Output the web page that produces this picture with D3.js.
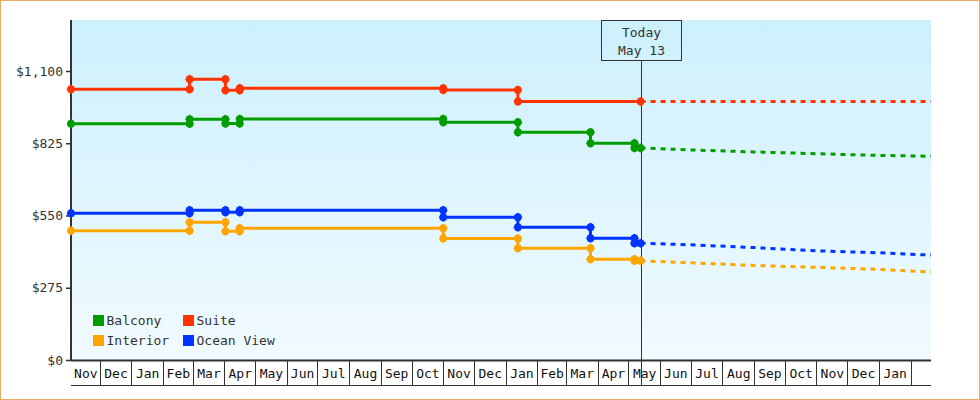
<!DOCTYPE html>
<html>
<head>
<meta charset="utf-8">
<script src="https://cdn.jsdelivr.net/npm/d3@7"></script>
<style>
body { margin: 0; background: #fff; }
text { font-family: "DejaVu Sans Mono", monospace; font-size: 13px; }
</style>
</head>
<body>
<div id="chart"></div>
<script>
// price change dates (history) and forecast dates
var changeDates = ["2023-11-03", "2024-02-27", "2024-04-02", "2024-04-16",
	"2024-11-01", "2025-01-13", "2025-03-25", "2025-05-07"];
var todayDate = "2025-05-13";
var endDate = "2026-02-21";
var forecastDates = ["2025-05-13", "2025-07-01", "2025-09-01", "2025-11-01",
	"2026-01-01", "2026-02-21"];

var categories = ["Balcony", "Suite", "Interior", "Ocean View"];
var colors = ["#009c00", "#ff3300", "#ffa500", "#0033ff"];

var balcony = [899.6, 916.3, 900, 917.4, 905, 867, 825, 807];
var suite = [1030.4, 1068.7, 1026.5, 1034.5, 1027.7, 984, 984, 984];
var interior = [491.6, 524, 489.7, 501, 462.3, 425, 383.2, 377.5];
var oceanView = [558.9, 570.3, 562, 570.3, 543.7, 505.7, 463.8, 444.8];

var balconyForecast = [807, 799.5, 792, 785, 778.6, 775.6];
var suiteForecast = [984, 984, 984, 984, 984, 984];
var interiorForecast = [377.5, 370, 359.7, 352.8, 344.8, 334.6];
var oceanViewForecast = [444.8, 438.4, 428, 415.5, 408, 399.2];

var yTicks = [0, 275, 550, 825, 1100];
var yMax = 1294;

var parseDate = d3.timeParse("%Y-%m-%d");

drawChart();

function drawChart() {
	const margin = {
		top: 20,
		right: 49,
		bottom: 40,
		left: 71
	};
	const totalWidth = 980, totalHeight = 400;
	const width = totalWidth - margin.left - margin.right;
	const height = totalHeight - margin.top - margin.bottom;

	const start = parseDate(changeDates[0]);
	const end = parseDate(endDate);
	const today = parseDate(todayDate);

	const xScale = d3.scaleTime()
		.domain([start, end])
		.range([0, width]);

	const yScale = d3.scaleLinear()
		.domain([0, yMax])
		.range([height, 0]);

	const root = d3.select("#chart").append("svg")
		.attr("width", totalWidth)
		.attr("height", totalHeight);

	root.append("rect")
		.attr("x", 0.5)
		.attr("y", 0.5)
		.attr("width", totalWidth - 1)
		.attr("height", totalHeight - 1)
		.attr("fill", "#fff")
		.attr("stroke", "#e9aa66");

	const defs = root.append("defs");
	const grad = defs.append("linearGradient")
		.attr("id", "bg")
		.attr("x1", 0).attr("y1", 0)
		.attr("x2", 0).attr("y2", 1);
	grad.append("stop").attr("offset", "0%").attr("stop-color", "#ccf0fd");
	grad.append("stop").attr("offset", "100%").attr("stop-color", "#f1faff");

	const svg = root.append("g")
		.attr("transform", "translate(" + margin.left + "," + margin.top + ")");

	svg.append("rect")
		.attr("width", width)
		.attr("height", height)
		.attr("fill", "url(#bg)");

	// y axis
	const yAxis = d3.axisLeft(yScale)
		.tickValues(yTicks)
		.tickSize(5)
		.tickPadding(3)
		.tickFormat(d => "$" + d3.format(",")(d));

	const yg = svg.append("g")
		.attr("class", "yaxis")
		.call(yAxis);
	yg.select(".domain").remove();
	yg.selectAll("line").attr("stroke", "#333").attr("stroke-width", 1.5);
	yg.selectAll("text")
		.attr("fill", "#333")
		.style("font-family", "'DejaVu Sans Mono', monospace")
		.style("font-size", "13px");

	svg.append("line")
		.attr("x1", 0).attr("x2", 0)
		.attr("y1", 0).attr("y2", height + 1)
		.attr("stroke", "#333")
		.attr("stroke-width", 2);

	// x axis: month cells
	const xg = svg.append("g").attr("class", "xaxis")
		.attr("transform", "translate(0," + height + ")");

	const monthStarts = d3.timeMonth.range(d3.timeMonth.ceil(start), end);
	const bounds = [start].concat(monthStarts).concat([end]);

	xg.selectAll(".sep")
		.data(monthStarts)
		.enter()
		.append("line")
		.attr("class", "sep")
		.attr("x1", d => Math.round(xScale(d)) + 0.5)
		.attr("x2", d => Math.round(xScale(d)) + 0.5)
		.attr("y1", 0)
		.attr("y2", 25)
		.attr("stroke", "#333");

	const cells = [];
	for (var i = 0; i < bounds.length - 1; i++) {
		var w = xScale(bounds[i + 1]) - xScale(bounds[i]);
		if (w > 24) cells.push({ a: bounds[i], b: bounds[i + 1] });
	}
	xg.selectAll(".mlabel")
		.data(cells)
		.enter()
		.append("text")
		.attr("class", "mlabel")
		.attr("x", d => (xScale(d.a) + xScale(d.b)) / 2 + 0.5)
		.attr("y", 13)
		.attr("dy", "0.35em")
		.attr("text-anchor", "middle")
		.attr("fill", "#111")
		.text(d => d3.timeFormat("%b")(d.b > d.a && d.a.getDate() === 1 ? d.a : d3.timeMonth.floor(d.a)));

	xg.append("line")
		.attr("x1", 0).attr("x2", width)
		.attr("y1", 0.5).attr("y2", 0.5)
		.attr("stroke", "#333")
		.attr("stroke-width", 2);
	xg.append("line")
		.attr("x1", 0).attr("x2", width)
		.attr("y1", 25.5).attr("y2", 25.5)
		.attr("stroke", "#333");

	// today marker
	const tx = Math.round(xScale(today)) + 0.5;
	svg.append("line")
		.attr("x1", tx).attr("x2", tx)
		.attr("y1", 40).attr("y2", height + 25)
		.attr("stroke", "#333");
	svg.append("rect")
		.attr("x", tx - 40)
		.attr("y", 0.5)
		.attr("width", 80)
		.attr("height", 40)
		.attr("fill", "none")
		.attr("stroke", "#333");
	svg.append("text")
		.attr("x", tx)
		.attr("y", 12)
		.attr("dy", "0.35em")
		.attr("text-anchor", "middle")
		.attr("fill", "#333")
		.text("Today");
	svg.append("text")
		.attr("x", tx)
		.attr("y", 30)
		.attr("dy", "0.35em")
		.attr("text-anchor", "middle")
		.attr("fill", "#333")
		.text(d3.timeFormat("%b %-d")(today));

	// series
	const history = [balcony, suite, interior, oceanView];
	const forecast = [balconyForecast, suiteForecast, interiorForecast, oceanViewForecast];
	const order = [2, 3, 0, 1];

	const stepLine = d3.line()
		.x(d => xScale(d.date))
		.y(d => yScale(d.value))
		.curve(d3.curveStepAfter);
	const trendLine = d3.line()
		.x(d => xScale(d.date))
		.y(d => yScale(d.value));

	const marker = "M0,-4.5L3,-3L4.2,0L3,3L0,4.5L-3,3L-4.2,0L-3,-3Z";

	order.forEach(function(s) {
		var vals = history[s];
		var pts = changeDates.map((d, i) => ({ date: parseDate(d), value: vals[i] }));
		pts.push({ date: today, value: vals[vals.length - 1] });

		var fpts = forecastDates.map((d, i) => ({ date: parseDate(d), value: forecast[s][i] }));

		svg.append("path")
			.datum(fpts)
			.attr("d", trendLine)
			.attr("fill", "none")
			.attr("stroke", colors[s])
			.attr("stroke-width", 3)
			.attr("stroke-dasharray", "5,5");

		svg.append("path")
			.datum(pts)
			.attr("d", stepLine)
			.attr("fill", "none")
			.attr("stroke", colors[s])
			.attr("stroke-width", 3);

		// markers at first point, at both ends of every change, and today
		var marks = [pts[0]];
		for (var i = 1; i < changeDates.length; i++) {
			if (vals[i] !== vals[i - 1]) {
				marks.push({ date: pts[i].date, value: vals[i - 1] });
				marks.push(pts[i]);
			}
		}
		marks.push(pts[pts.length - 1]);

		svg.selectAll(".dot" + s)
			.data(marks)
			.enter()
			.append("path")
			.attr("class", "dot" + s)
			.attr("d", marker)
			.attr("transform", d => "translate(" + xScale(d.date) + "," + yScale(d.value) + ")")
			.attr("fill", colors[s]);
	});

	// legend
	const legend = svg.append("g")
		.attr("transform", "translate(22,295)");
	const items = legend.selectAll(".item")
		.data(categories)
		.enter()
		.append("g")
		.attr("class", "item")
		.attr("transform", (d, i) => "translate(" + (i % 2) * 90 + "," + Math.floor(i / 2) * 20 + ")");
	items.append("rect")
		.attr("width", 11)
		.attr("height", 11)
		.attr("fill", (d, i) => colors[i]);
	items.append("text")
		.attr("x", 13.5)
		.attr("y", 5.5)
		.attr("dy", "0.35em")
		.attr("fill", "#333")
		.text(d => d);
}
</script>
</body>
</html>
